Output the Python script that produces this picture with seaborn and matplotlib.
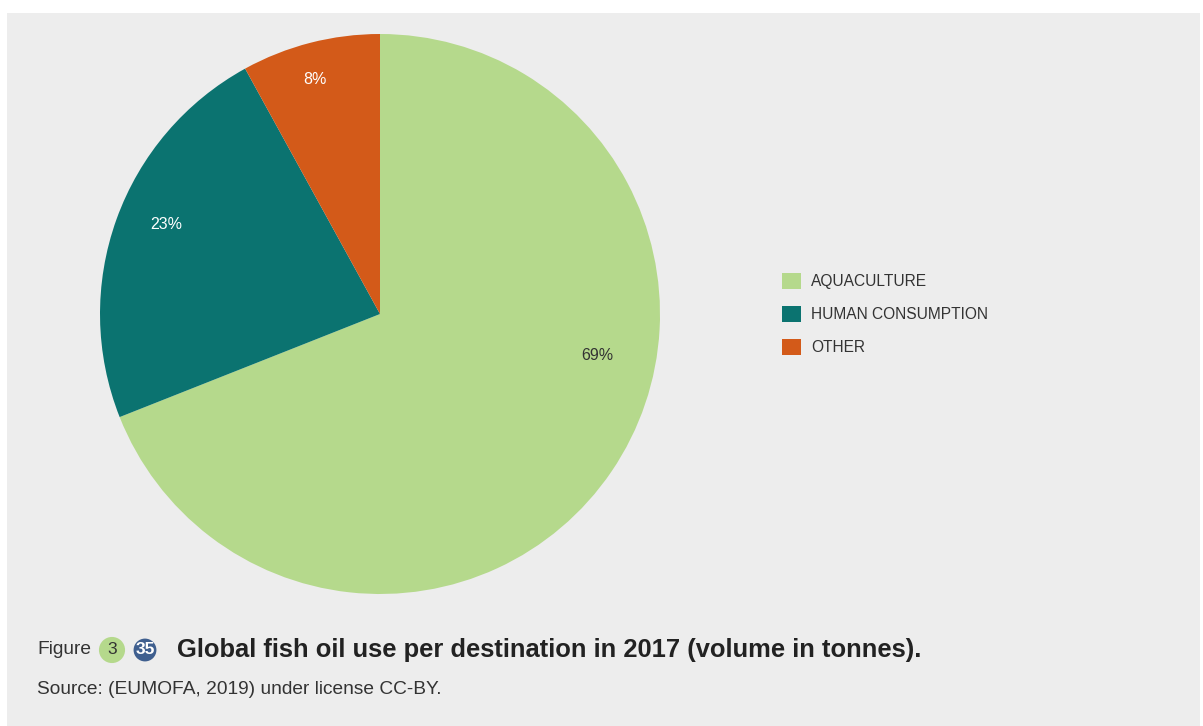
import matplotlib
matplotlib.use("Agg")
import matplotlib.pyplot as plt
import matplotlib.patches as mpatches
import seaborn as sns

categories = ["AQUACULTURE", "HUMAN CONSUMPTION", "OTHER"]
shares = [69, 23, 8]
colors = ["#b5d98c", "#0b7370", "#d35a19"]
pct_colors = ["#333333", "white", "white"]

sns.set_theme(style="white")
plt.rcParams['font.family'] = ['Liberation Sans', 'DejaVu Sans']

W, H = 1203, 726
fig = plt.figure(figsize=(W / 100, H / 100), dpi=100)
fig.patch.set_facecolor("white")
bg = mpatches.Rectangle((7 / W, 0), (1200 - 7) / W, (726 - 13) / H,
                        transform=fig.transFigure, facecolor="#ededed",
                        edgecolor="none", zorder=-10)
fig.patches.append(bg)

cx, cy, r = 380, 314, 280
ax = fig.add_axes([(cx - r) / W, (H - cy - r) / H, 2 * r / W, 2 * r / H])
ax.set_zorder(5)
ax.set_facecolor("none")
wedges, texts, autotexts = ax.pie(
    shares, colors=colors, startangle=90, counterclock=False,
    autopct=lambda p: f"{p:.0f}%", pctdistance=0.8,
    wedgeprops=dict(linewidth=0), textprops=dict(fontsize=11.5))
ax.set_xlim(-1, 1)
ax.set_ylim(-1, 1)
ax.set_aspect("equal")
ax.axis("off")

label_pos = [(0.775, -0.15), (-0.764, 0.321), (-0.232, 0.839)]
for t, c, p in zip(autotexts, pct_colors, label_pos):
    t.set_color(c)
    t.set_position(p)

leg = fig.legend(wedges, categories, loc="center left",
                 bbox_to_anchor=(768 / W, 1 - 314 / H), frameon=False,
                 fontsize=11.2, handlelength=1.25, handleheight=1.25,
                 labelspacing=1.05, handletextpad=0.6,
                 labelcolor="#333333")

fig.text(37 / W, 1 - 650 / H, "Figure", fontsize=13.8, color="#333333",
         va="center", ha="left")
fig.text(112 / W, 1 - 650 / H, "3", fontsize=12.5, color="#333333",
         va="center", ha="center",
         bbox=dict(boxstyle="circle,pad=0.32", fc="#b5d98c", ec="none"))
fig.text(145 / W, 1 - 650 / H, "35", fontsize=12.5, color="white",
         va="center", ha="center", fontweight="bold",
         bbox=dict(boxstyle="circle,pad=0.1", fc="#3f5f8f", ec="none"))
fig.text(177 / W, 1 - 650 / H,
         "Global fish oil use per destination in 2017 (volume in tonnes).",
         fontsize=18.4, fontweight="bold", color="#222222",
         va="center", ha="left")
fig.text(37 / W, 1 - 690 / H, "Source: (EUMOFA, 2019) under license CC-BY.",
         fontsize=13.8, color="#333333", va="center", ha="left")

fig.savefig("out.png", dpi=100)
